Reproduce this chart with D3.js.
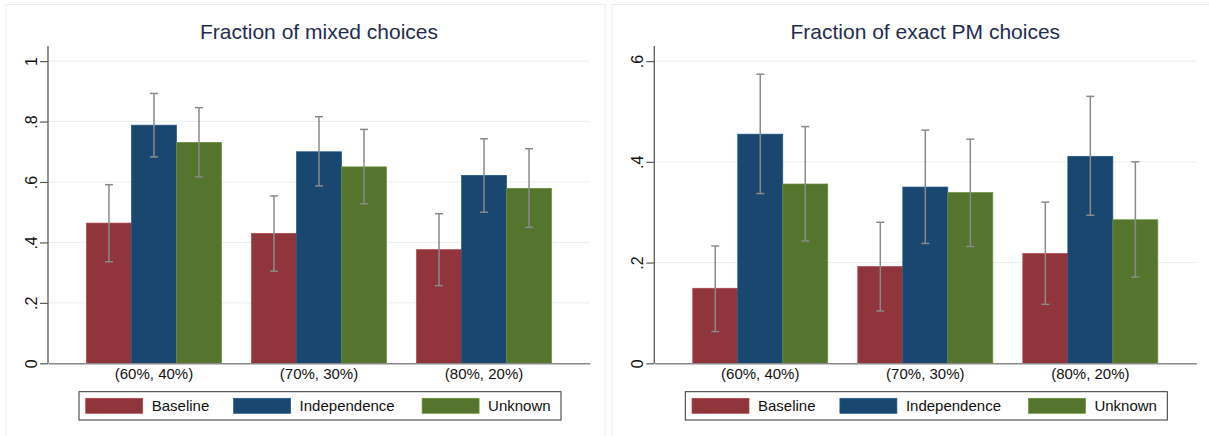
<!DOCTYPE html>
<html>
<head>
<meta charset="utf-8">
<script src="https://cdn.jsdelivr.net/npm/d3@7"></script>
<style>
  body { margin: 0; background: #fff; }
  svg { display: block; font-family: "Liberation Sans", Arial, Helvetica, sans-serif; }
</style>
</head>
<body>
<script>
  // categories and series
  const groups = ['(60%, 40%)', '(70%, 30%)', '(80%, 20%)'];
  const seriesNames = ['Baseline', 'Independence', 'Unknown'];
  const seriesColors = ['#90353b', '#1a476f', '#55752f'];

  // fraction of mixed choices: [group][series]
  const mixedMean = [[0.464, 0.788, 0.731], [0.430, 0.700, 0.650], [0.376, 0.622, 0.579]];
  const mixedLow  = [[0.336, 0.683, 0.617], [0.305, 0.587, 0.528], [0.257, 0.500, 0.450]];
  const mixedHigh = [[0.591, 0.893, 0.846], [0.554, 0.816, 0.774], [0.495, 0.743, 0.710]];
  const mixedTicks = [0, 0.2, 0.4, 0.6, 0.8, 1];
  const mixedTickLabels = ['0', '.2', '.4', '.6', '.8', '1'];

  // fraction of exact PM choices: [group][series]
  const exactMean = [[0.149, 0.455, 0.356], [0.192, 0.350, 0.339], [0.218, 0.411, 0.285]];
  const exactLow  = [[0.063, 0.337, 0.243], [0.104, 0.238, 0.232], [0.117, 0.294, 0.171]];
  const exactHigh = [[0.233, 0.574, 0.470], [0.280, 0.463, 0.445], [0.320, 0.530, 0.400]];
  const exactTicks = [0, 0.2, 0.4, 0.6];
  const exactTickLabels = ['0', '.2', '.4', '.6'];

  const width = 1209;
  const height = 436;

  const svg = d3.select('body')
          .append('svg')
          .attr('width', width)
          .attr('height', height);

  // one panel: frame, title, grid, bars, error bars, axes, legend
  function drawPanel(p) {
    const g = svg.append('g');

    g.append('rect')
            .attr('x', p.frameX).attr('y', 4.5)
            .attr('width', p.frameW).attr('height', 440)
            .attr('fill', '#fff')
            .attr('stroke', '#e4edf1')
            .attr('stroke-width', 1);

    const x = d3.scaleBand()
            .domain(groups)
            .range([p.left, p.left + 542])
            .paddingInner(30 / 165)
            .paddingOuter(0.233);

    const xs = d3.scaleBand()
            .domain(seriesNames)
            .range([0, x.bandwidth()]);

    const y = d3.scaleLinear()
            .domain([0, p.yMax])
            .range([363.3, 46]);

    // title
    g.append('text')
            .attr('x', p.left + 271)
            .attr('y', 39)
            .attr('text-anchor', 'middle')
            .attr('font-size', 21)
            .attr('fill', '#1e2d4f')
            .text(p.title);

    // grid lines
    g.append('g')
            .selectAll('line')
            .data(p.ticks.filter(t => t > 0))
            .enter()
            .append('line')
            .attr('x1', p.left).attr('x2', p.left + 542)
            .attr('y1', d => y(d)).attr('y2', d => y(d))
            .attr('stroke', '#e6eff1')
            .attr('stroke-width', 1);

    // bars
    const grp = g.append('g')
            .selectAll('g')
            .data(groups)
            .enter()
            .append('g')
            .attr('transform', d => `translate(${x(d)},0)`);

    grp.selectAll('rect')
            .data((d, i) => seriesNames.map((s, j) => ({ s, j, v: p.mean[i][j] })))
            .enter()
            .append('rect')
            .attr('x', d => xs(d.s))
            .attr('y', d => y(d.v))
            .attr('width', xs.bandwidth())
            .attr('height', d => y(0) - y(d.v))
            .attr('fill', d => seriesColors[d.j])
            .attr('stroke', d => d3.color(seriesColors[d.j]).brighter(0.6))
            .attr('stroke-width', 0.7);

    // error bars
    const eb = grp.selectAll('g.eb')
            .data((d, i) => seriesNames.map((s, j) => ({ s, lo: p.low[i][j], hi: p.high[i][j] })))
            .enter()
            .append('g')
            .attr('class', 'eb')
            .attr('stroke', '#8a8a8a')
            .attr('stroke-width', 1.5);

    eb.append('line')
            .attr('x1', d => xs(d.s) + xs.bandwidth() / 2)
            .attr('x2', d => xs(d.s) + xs.bandwidth() / 2)
            .attr('y1', d => y(d.lo)).attr('y2', d => y(d.hi));
    eb.append('line')
            .attr('x1', d => xs(d.s) + xs.bandwidth() / 2 - 4)
            .attr('x2', d => xs(d.s) + xs.bandwidth() / 2 + 4)
            .attr('y1', d => y(d.hi)).attr('y2', d => y(d.hi));
    eb.append('line')
            .attr('x1', d => xs(d.s) + xs.bandwidth() / 2 - 4)
            .attr('x2', d => xs(d.s) + xs.bandwidth() / 2 + 4)
            .attr('y1', d => y(d.lo)).attr('y2', d => y(d.lo));

    // y axis
    const yAxis = g.append('g')
            .attr('transform', `translate(${p.left},0)`)
            .call(d3.axisLeft(y)
                    .tickValues(p.ticks)
                    .tickFormat((d, i) => p.tickLabels[i])
                    .tickSize(8)
                    .tickPadding(0));
    yAxis.attr('font-family', null).attr('font-size', 16);
    yAxis.select('.domain')
            .attr('d', `M0,${y(0)}V46`)
            .attr('stroke', '#5a5a5a')
            .attr('stroke-width', 1.3);
    yAxis.selectAll('.tick line').attr('stroke', '#5a5a5a').attr('stroke-width', 1.2);
    yAxis.selectAll('.tick text')
            .attr('font-size', 16)
            .attr('fill', '#111')
            .attr('x', null).attr('dy', null)
            .attr('text-anchor', 'middle')
            .attr('transform', 'translate(-11,0) rotate(-90)');

    // x axis
    const xAxis = g.append('g')
            .attr('transform', `translate(0,${y(0)})`)
            .call(d3.axisBottom(x).tickSize(0).tickPadding(0));
    xAxis.attr('font-family', null).attr('font-size', 15);
    xAxis.select('.domain')
            .attr('stroke', '#8a8a8a')
            .attr('stroke-width', 1.5);
    xAxis.selectAll('.tick text')
            .attr('fill', '#111')
            .attr('dy', null)
            .attr('y', 15.5);

    // legend
    const lg = g.append('g')
            .attr('transform', `translate(${p.left + 31},391.7)`);
    lg.append('rect')
            .attr('width', 482).attr('height', 28.3)
            .attr('fill', '#fff')
            .attr('stroke', '#333')
            .attr('stroke-width', 1);
    const item = lg.selectAll('g.item')
            .data(seriesNames)
            .enter()
            .append('g')
            .attr('class', 'item')
            .attr('transform', (d, i) => `translate(${[6.7, 154.6, 343.1][i]},6.6)`);
    item.append('rect')
            .attr('width', 57).attr('height', 15)
            .attr('fill', (d, i) => seriesColors[i])
            .attr('stroke', (d, i) => d3.color(seriesColors[i]).brighter(0.6))
            .attr('stroke-width', 0.7);
    item.append('text')
            .attr('x', 66)
            .attr('y', 13)
            .attr('font-size', 15)
            .attr('fill', '#111')
            .text(d => d);
  }

  drawPanel({
    frameX: 6, frameW: 599, left: 48,
    title: 'Fraction of mixed choices',
    yMax: 1.05, ticks: mixedTicks, tickLabels: mixedTickLabels,
    mean: mixedMean, low: mixedLow, high: mixedHigh
  });

  drawPanel({
    frameX: 612, frameW: 600, left: 654.3,
    title: 'Fraction of exact PM choices',
    yMax: 0.63, ticks: exactTicks, tickLabels: exactTickLabels,
    mean: exactMean, low: exactLow, high: exactHigh
  });
</script>
</body>
</html>
